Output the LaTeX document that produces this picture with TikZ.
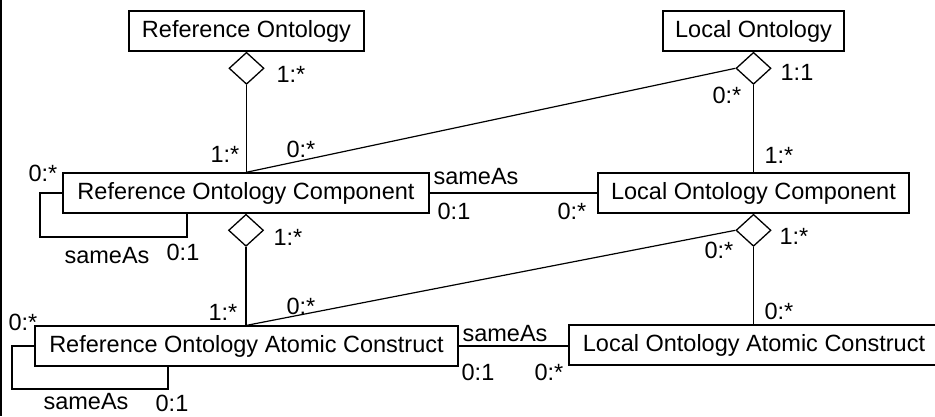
\documentclass[tikz,border=0pt]{standalone}
\usepackage{fontspec}
\setmainfont{Liberation Sans}
\usetikzlibrary{shapes.geometric}
\tikzset{
  box/.style={draw, line width=1.3pt, minimum height=40pt, inner sep=0pt, font=\fontsize{23.5pt}{28pt}\selectfont},
  agg/.style={draw, diamond, line width=1.3pt, fill=white, minimum width=35pt, minimum height=32pt, inner sep=0pt, anchor=north},
  lbl/.style={inner sep=0pt, font=\fontsize{23.5pt}{28pt}\selectfont},
  conn/.style={line width=1.2pt}
}
\begin{document}
\begin{tikzpicture}[x=1pt, y=-1pt]
\clip (0,0) rectangle (935,416);
\fill[white] (0,0) rectangle (935,416);
\fill[black] (0,0) rectangle (2.2,416);
% boxes
\node[box, minimum width=235pt] (RO) at (246.5,31) {Reference Ontology};
\node[box, minimum width=181pt] (LO) at (753.5,31) {Local Ontology};
\node[box, minimum width=366pt] (ROC) at (246,193) {Reference Ontology Component};
\node[box, minimum width=311pt] (LOC) at (753.5,193) {Local Ontology Component};
\node[box, minimum width=423pt] (ROAC) at (246.5,346) {Reference Ontology Atomic Construct};
\node[box, minimum width=370pt] (LOAC) at (754,345) {Local Ontology Atomic Construct};
% aggregation diamonds
\node[agg] (dRO) at (RO.south) {};
\node[agg] (dLO) at (LO.south) {};
\node[agg] (dROC) at (ROC.south) {};
\node[agg] (dLOC) at (LOC.south) {};
% connectors
\draw[conn] (dRO.south) -- (dRO.south |- ROC.north);
\draw[conn] (dLO.south) -- (dLO.south |- LOC.north);
\draw[conn] (dLO.west) -- (ROC.north);
\draw[conn] (dROC.south) -- (dROC.south |- ROAC.north);
\draw[conn] (dLOC.south) -- (dLOC.south |- LOAC.north);
\draw[conn] (dLOC.west) -- (ROAC.north);
\draw[conn] (ROC.east) -- (LOC.west);
\draw[conn] (ROAC.east) -- (ROAC.east -| LOAC.west);
% self loops
\coordinate (la) at (40,237);
\coordinate (lb) at (187,237);
\draw[conn] (ROC.west) -| (la) -- (lb) -- (lb |- ROC.south);
\coordinate (lc) at (12,389);
\coordinate (ld) at (168,389);
\draw[conn] (ROAC.west) -| (lc) -- (ld) -- (ld |- ROAC.south);
% multiplicities and names
\node[lbl] (m1) at (291,74) {1:*};
\node[lbl] (m2) at (225,154) {1:*};
\node[lbl] (m3) at (301,149) {0:*};
\node[lbl] (m4) at (43,173) {0:*};
\node[lbl] (m5) at (476,177) {sameAs};
\node[lbl] (m6) at (454,211) {0:1};
\node[lbl] (m7) at (572,211) {0:*};
\node[lbl] (m8) at (727,95) {0:*};
\node[lbl] (m9) at (797,72) {1:1};
\node[lbl] (m10) at (779,155) {1:*};
\node[lbl] (m11) at (107,256) {sameAs};
\node[lbl] (m12) at (183,252) {0:1};
\node[lbl] (m13) at (288,237) {1:*};
\node[lbl] (m14) at (223,312) {1:*};
\node[lbl] (m15) at (301,306) {0:*};
\node[lbl] (m16) at (23,322) {0:*};
\node[lbl] (m17) at (86,402) {sameAs};
\node[lbl] (m18) at (172,403) {0:1};
\node[lbl] (m19) at (719,250) {0:*};
\node[lbl] (m20) at (794,236) {1:*};
\node[lbl] (m21) at (779,311) {0:*};
\node[lbl] (m22) at (505,334) {sameAs};
\node[lbl] (m23) at (478,372) {0:1};
\node[lbl] (m24) at (549,372) {0:*};
\end{tikzpicture}
\end{document}
